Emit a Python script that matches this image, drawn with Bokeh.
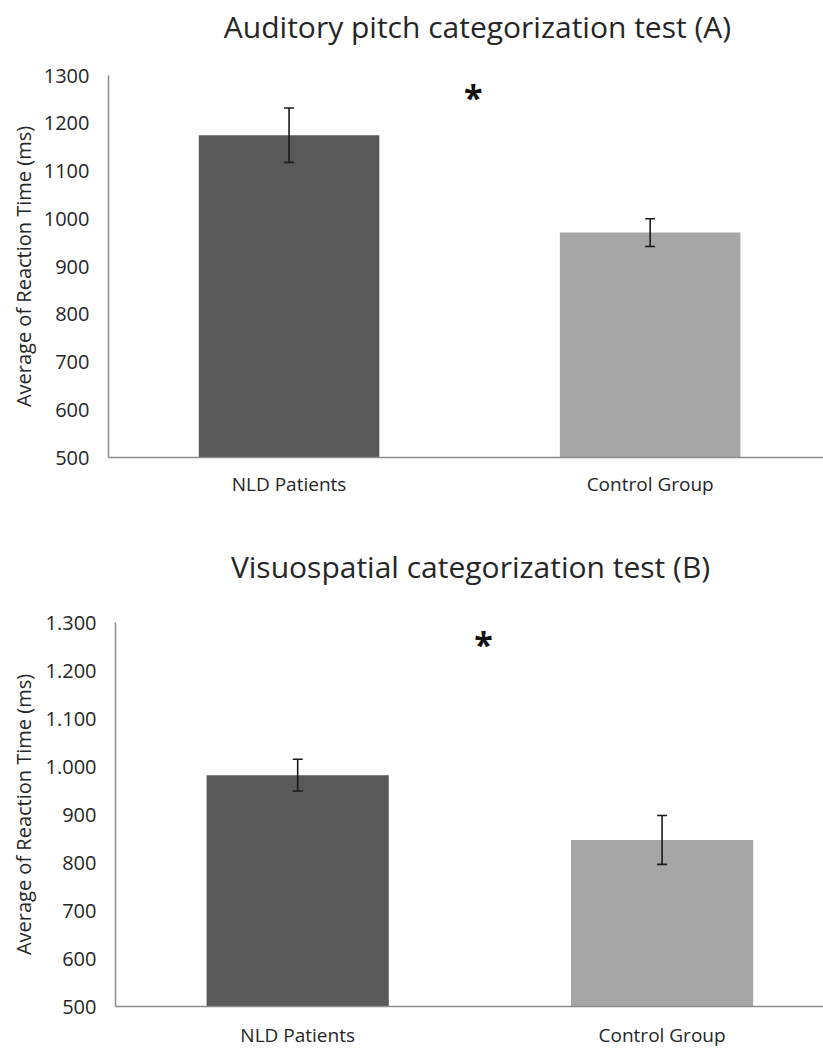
from bokeh.plotting import figure
from bokeh.layouts import column
from bokeh.models import ColumnDataSource, Range1d, FixedTicker, Whisker, TeeHead
from bokeh.core.properties import value
from bokeh.embed import file_html
from bokeh.resources import INLINE

# Groups and mean reaction times (ms) with error bars
categories = ["NLD Patients", "Control Group"]
bar_colors = ["#595959", "#a6a6a6"]

pitch_title = "Auditory pitch categorization test (A)"
pitch_means = [1175, 971]
pitch_errors = [57, 29]

visuo_title = "Visuospatial categorization test (B)"
visuo_means = [982, 847]
visuo_errors = [33, 51]

y_ticks = [500, 600, 700, 800, 900, 1000, 1100, 1200, 1300]
pitch_tick_labels = ["500", "600", "700", "800", "900", "1000", "1100", "1200", "1300"]
visuo_tick_labels = ["500", "600", "700", "800", "900", "1.000", "1.100", "1.200", "1.300"]

# significance marker placed between the two groups
sig_label = "*"
sig_value = 1255

FONT = "Open Sans"
AXIS_GREY = "#8c8c8c"
TEXT = "#262626"
Y_MIN, Y_MAX = 500, 1300
WIDTH = 823


def heading(text, height, center_px, middle_from_top):
    """A thin strip holding a chart heading (pixel coordinates, origin bottom-left)."""
    h = figure(width=WIDTH, height=height, output_backend="svg", toolbar_location=None,
               title=None, frame_align=False,
               x_range=Range1d(0, WIDTH), y_range=Range1d(0, height),
               x_axis_type=None, y_axis_type=None,
               min_border=0, min_border_left=0, min_border_right=0,
               min_border_top=0, min_border_bottom=0)
    h.outline_line_color = None
    h.background_fill_color = "white"
    h.border_fill_color = "white"
    h.text(x=[center_px], y=[height - middle_from_top], text=[text],
           text_font=value(FONT), text_font_size="30px", text_color=TEXT,
           text_align="center", text_baseline="middle")
    return h


def make_panel(means, errors, tick_labels, height, left, top, bottom, x_end,
               label_standoff, cat_standoff):
    xs = [i + 0.5 for i in range(len(categories))]
    src = ColumnDataSource(dict(
        x=xs, top=means, color=bar_colors,
        upper=[m + e for m, e in zip(means, errors)],
        lower=[m - e for m, e in zip(means, errors)],
    ))
    p = figure(width=WIDTH, height=height, output_backend="svg", toolbar_location=None,
               title=None, frame_align=False,
               x_range=Range1d(0, x_end), y_range=Range1d(Y_MIN, Y_MAX),
               min_border_left=left, min_border_right=0,
               min_border_top=top, min_border_bottom=bottom)

    p.vbar(x="x", top="top", bottom=Y_MIN, width=0.5, color="color", line_color=None, source=src)
    p.add_layout(Whisker(base="x", upper="upper", lower="lower", source=src, level="overlay",
                         line_color="#1a1a1a", line_width=1.6,
                         upper_head=TeeHead(size=10, line_color="#1a1a1a", line_width=1.6),
                         lower_head=TeeHead(size=10, line_color="#1a1a1a", line_width=1.6)))

    p.text(x=[len(categories) / 2 + 0.01], y=[sig_value], text=[sig_label],
           text_font=value(FONT), text_font_size="34px", text_font_style="bold",
           text_align="center", text_baseline="middle", text_color="#111111")

    p.xgrid.visible = False
    p.ygrid.visible = False
    p.outline_line_color = None
    p.background_fill_color = "white"
    p.border_fill_color = "white"

    ya = p.yaxis[0]
    ya.ticker = FixedTicker(ticks=y_ticks)
    ya.major_label_overrides = {t: s for t, s in zip(y_ticks, tick_labels)}
    ya.axis_label = "Average of Reaction Time (ms)"
    ya.axis_label_text_font = FONT
    ya.axis_label_text_font_size = "20px"
    ya.axis_label_text_font_style = "normal"
    ya.axis_label_text_color = TEXT
    ya.axis_label_standoff = label_standoff
    ya.major_label_text_font = FONT
    ya.major_label_text_font_size = "20px"
    ya.major_label_text_color = TEXT
    ya.major_label_standoff = 19
    ya.axis_line_color = AXIS_GREY
    ya.axis_line_width = 1.5
    ya.major_tick_line_color = None
    ya.minor_tick_line_color = None
    ya.major_tick_out = 0
    ya.major_tick_in = 0
    ya.minor_tick_out = 0
    ya.minor_tick_in = 0

    xa = p.xaxis[0]
    xa.ticker = FixedTicker(ticks=xs)
    xa.major_label_overrides = {x: c for x, c in zip(xs, categories)}
    xa.major_label_text_font = FONT
    xa.major_label_text_font_size = "19px"
    xa.major_label_text_color = TEXT
    xa.major_label_standoff = cat_standoff
    xa.axis_line_color = AXIS_GREY
    xa.axis_line_width = 1.5
    xa.major_tick_line_color = None
    xa.minor_tick_line_color = None
    xa.major_tick_out = 0
    xa.major_tick_in = 0
    xa.minor_tick_out = 0
    xa.minor_tick_in = 0
    return p


t1 = heading(pitch_title, height=50, center_px=477, middle_from_top=25.5)
p1 = make_panel(pitch_means, pitch_errors, pitch_tick_labels,
                height=475, left=108, top=25, bottom=68, x_end=1.98,
                label_standoff=4, cat_standoff=13)
t2 = heading(visuo_title, height=65, center_px=470, middle_from_top=41.4)
p2 = make_panel(visuo_means, visuo_errors, visuo_tick_labels,
                height=460, left=115, top=32, bottom=43, x_end=1.943,
                label_standoff=6, cat_standoff=15)

layout = column(t1, p1, t2, p2, spacing=0)
open("out.html", "w").write(file_html(layout, INLINE))
